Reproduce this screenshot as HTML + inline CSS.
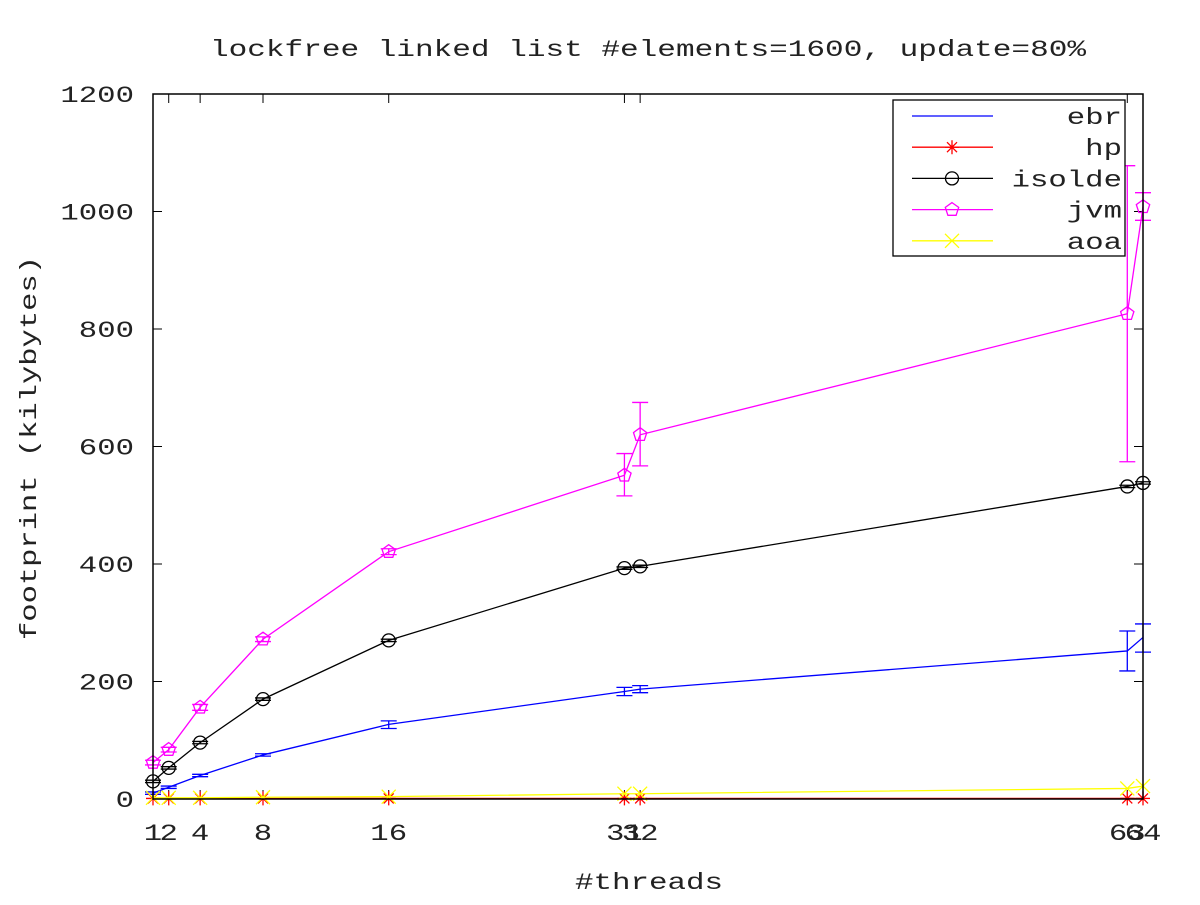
<!DOCTYPE html>
<html><head><meta charset="utf-8"><style>
body{margin:0;background:#fff}
text{font-family:"Liberation Mono","DejaVu Sans Mono",monospace;fill:#222}
</style></head><body>
<svg id="chart" width="1200" height="900" xmlns="http://www.w3.org/2000/svg">
<rect width="1200" height="900" fill="#fff"/>
<text x="648" y="56" font-size="23" text-anchor="middle" textLength="876" lengthAdjust="spacingAndGlyphs">lockfree linked list #elements=1600, update=80%</text>
<text x="649" y="889" font-size="23" text-anchor="middle" textLength="148" lengthAdjust="spacingAndGlyphs">#threads</text>
<text x="36" y="448" font-size="23" text-anchor="middle" textLength="384" lengthAdjust="spacingAndGlyphs" transform="rotate(-90 36 448)">footprint (kilybytes)</text>
<g id="grid"></g><g id="series"></g>
<rect x="153" y="94" width="990" height="705" fill="none" stroke="#000" stroke-width="1.5"/>
<g id="legend"></g>
</svg>
<script>
const threads=[1,2,4,8,16,31,32,63,64];
const xTickLabels=[1,2,4,8,16,31,32,63,64];
const yTicks=[0,200,400,600,800,1000,1200];
const ebr=[10,20,40,75,127,183,187,252,275];
const ebrLo=[8,18,38,73,120,176,181,218,250];
const ebrHi=[12,22,42,77,133,190,193,286,298];
const hp=[1,1,1,1,1,1,1,1,1];
const isolde=[30,53,96,170,270,393,396,532,538];
const isoldeLo=[28,51,94,168,268,391,394,530,536];
const isoldeHi=[32,55,98,172,272,395,398,534,540];
const jvm=[62,84,156,272,421,551,620,826,1008];
const jvmLo=[58,80,151,268,416,516,567,574,985];
const jvmHi=[66,88,161,276,426,588,675,1078,1032];
const aoa=[2,2,2,3,4,9,9,18,22];
const names=['ebr','hp','isolde','jvm','aoa'];
const colors=['#0000ff','#ff0000','#000000','#ff00ff','#ffff00'];
const X0=153,X1=1143,Y0=799,Y1=94,CW=18.4;
const sx=v=>X0+(v-1)/(63)*(X1-X0);
const sy=v=>Y0-v/1200*(Y0-Y1);
const NS='http://www.w3.org/2000/svg';
function mk(t,a,p){const e=document.createElementNS(NS,t);for(const k in a)e.setAttribute(k,a[k]);p.appendChild(e);return e;}
function txt(s,a,p){const e=mk('text',Object.assign({'font-size':23,textLength:String(s).length*CW,lengthAdjust:'spacingAndGlyphs'},a),p);e.textContent=s;return e;}
const grid=document.getElementById('grid'),ser=document.getElementById('series'),leg=document.getElementById('legend');
yTicks.forEach(v=>{
 const y=sy(v);
 const t=mk('line',{x1:X0,x2:X0+9,y1:y,y2:y,stroke:'#000','stroke-width':1},grid);
 
 
 const t2=mk('line',{x1:X1-9,x2:X1,y1:y,y2:y,stroke:'#000','stroke-width':1},grid);
 
 
 const l=txt(v,{x:134,y:y+8,'text-anchor':'end'},grid);
 
 
});
xTickLabels.forEach(v=>{
 const x=sx(v);
 const t=mk('line',{x1:x,x2:x,y1:Y0,y2:Y0-9,stroke:'#000','stroke-width':1},grid);
 
 
 const t2=mk('line',{x1:x,x2:x,y1:Y1,y2:Y1+9,stroke:'#000','stroke-width':1},grid);
 
 
 const l=txt(v,{x:x,y:Y0+41,'text-anchor':'middle'},grid);
 
 
});
function marker(kind,x,y,c,p){
 const g=mk('g',{stroke:c,fill:'none','stroke-width':1.3},p);
 if(kind==='star'){mk('path',{d:`M${x-7} ${y}H${x+7}M${x} ${y-7}V${y+7}M${x-5} ${y-5}L${x+5} ${y+5}M${x-5} ${y+5}L${x+5} ${y-5}`},g);}
 else if(kind==='circle'){mk('circle',{cx:x,cy:y,r:6.5},g);}
 else if(kind==='pent'){let pts=[];for(let i=0;i<5;i++){const a=-Math.PI/2+i*2*Math.PI/5;pts.push((x+7*Math.cos(a)).toFixed(1)+','+(y+7*Math.sin(a)).toFixed(1));}mk('polygon',{points:pts.join(' ')},g);}
 else if(kind==='x'){mk('path',{d:`M${x-7} ${y-7}L${x+7} ${y+7}M${x-7} ${y+7}L${x+7} ${y-7}`},g);}
 return g;
}
const data=[ebr,hp,isolde,jvm,aoa];
const lo=[ebrLo,null,isoldeLo,jvmLo,null],hi=[ebrHi,null,isoldeHi,jvmHi,null];
const kinds=[null,'star','circle','pent','x'];
data.forEach((d,si)=>{
 const c=colors[si];
 const pl=mk('polyline',{points:d.map((v,i)=>sx(threads[i])+','+sy(v)).join(' '),fill:'none',stroke:c,'stroke-width':1.3},ser);
 
 
 d.forEach((v,i)=>{
  const x=sx(threads[i]);
  if(lo[si]){
   const a=sy(lo[si][i]),b=sy(hi[si][i]);
   const eb=mk('path',{d:`M${x} ${a}V${b}M${x-8} ${a}H${x+8}M${x-8} ${b}H${x+8}`,stroke:c,'stroke-width':1.3,fill:'none'},ser);
   
   
  }
  if(kinds[si]){
   const m=marker(kinds[si],x,sy(v),c,ser);
   
   
  }
 });
});
const lb=mk('rect',{x:893,y:100,width:232,height:156,fill:'#fff',stroke:'#000','stroke-width':1.3},leg);


names.forEach((n,i)=>{
 const y=116+i*31.2;
 const g=mk('g',{},leg);
 
 
 mk('line',{x1:912,x2:993,y1:y,y2:y,stroke:colors[i],'stroke-width':1.3},g);
 if(kinds[i])marker(kinds[i],952,y,colors[i],g);
 txt(n,{x:1122,y:y+8,'text-anchor':'end'},g);
});
</script>
</body></html>
